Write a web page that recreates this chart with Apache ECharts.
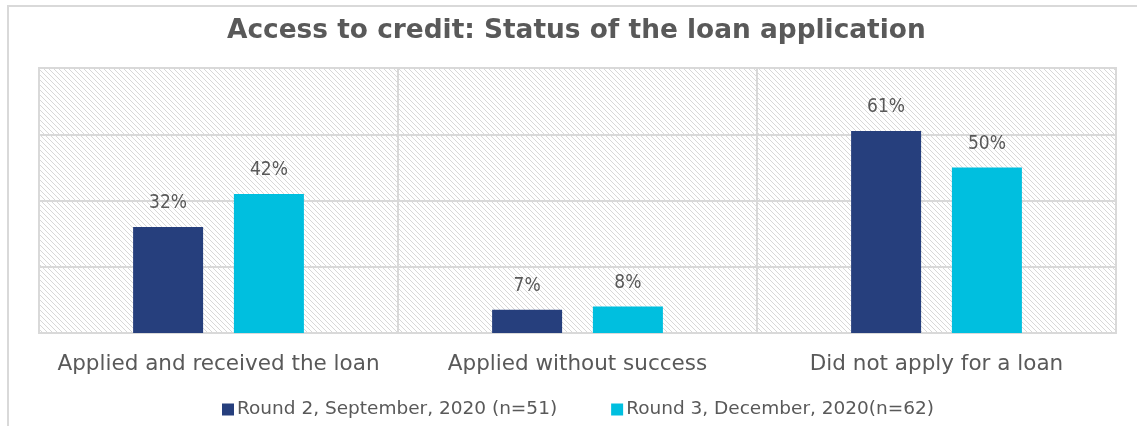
<!DOCTYPE html>
<html>
<head>
<meta charset="utf-8">
<script src="https://cdn.jsdelivr.net/npm/echarts@6/dist/echarts.min.js"></script>
<style>
  html, body { margin: 0; padding: 0; background: #fff; }
  #chart { width: 1137px; height: 426px; }
</style>
</head>
<body>
<div id="chart"></div>
<script>
const categories = ['Applied and received the loan', 'Applied without success', 'Did not apply for a loan'];
const round2Name = 'Round 2, September, 2020 (n=51)';
const round3Name = 'Round 3, December, 2020(n=62)';
const round2Values = [32, 7, 61];
const round3Values = [42, 8, 50];

// Diagonal hatch tile for the plot background
function hatchTile() {
  const c = document.createElement('canvas');
  const s = 5;
  c.width = s; c.height = s;
  const g = c.getContext('2d');
  g.fillStyle = '#ffffff';
  g.fillRect(0, 0, s, s);
  g.strokeStyle = '#d8d8d8';
  g.lineWidth = 1;
  g.beginPath();
  g.moveTo(-1, -1); g.lineTo(s + 1, s + 1);
  g.moveTo(-1, s - 1); g.lineTo(1, s + 1);
  g.moveTo(s - 1, -1); g.lineTo(s + 1, 1);
  g.stroke();
  return c;
}

const FONT = '"DejaVu Sans", sans-serif';
const FONT_NARROW = '"DejaVu Sans Condensed", "DejaVu Sans", sans-serif';
const TXT = '#595959';
const chart = echarts.init(document.getElementById('chart'), null, { renderer: 'canvas' });

chart.setOption({
  animation: false,
  textStyle: { fontFamily: FONT },
  title: {
    text: 'Access to credit: Status of the loan application',
    left: 222,
    top: 13,
    textStyle: { fontFamily: FONT, fontSize: 26.4, fontWeight: 'bold', color: TXT }
  },
  graphic: [{
    type: 'rect',
    shape: { x: 8, y: 6, width: 1140, height: 440 },
    style: { fill: 'none', stroke: '#d9d9d9', lineWidth: 2 },
    silent: true
  }],
  legend: {
    bottom: 2,
    left: 217,
    itemWidth: 12,
    itemHeight: 12,
    itemGap: 54,
    icon: 'rect',
    textStyle: { fontFamily: FONT, fontSize: 18.5, color: TXT, padding: [0, 0, 0, -2] },
    data: [round2Name, round3Name]
  },
  grid: {
    left: 39, right: 21, top: 68, bottom: 93,
    show: true,
    backgroundColor: { image: hatchTile(), repeat: 'repeat' },
    borderColor: '#d9d9d9',
    borderWidth: 2
  },
  xAxis: {
    type: 'category',
    data: categories,
    axisLine: { lineStyle: { color: '#d9d9d9', width: 2 } },
    axisTick: { show: false },
    splitLine: { show: true, interval: 0, lineStyle: { color: '#d9d9d9', width: 2 } },
    axisLabel: { interval: 0, hideOverlap: false, fontFamily: FONT, fontSize: 21.5, color: TXT, margin: 20 }
  },
  yAxis: {
    type: 'value',
    min: 0, max: 80, interval: 20,
    axisLabel: { show: false },
    axisLine: { show: false },
    axisTick: { show: false },
    splitLine: { lineStyle: { color: '#d9d9d9', width: 2 } }
  },
  series: [
    {
      name: round2Name,
      type: 'bar',
      data: round2Values,
      barWidth: 70,
      barGap: '44%',
      itemStyle: { color: '#263F7D' },
      label: { show: true, position: 'top', distance: 14, formatter: '{c}%', fontFamily: FONT_NARROW, fontSize: 19, color: TXT }
    },
    {
      name: round3Name,
      type: 'bar',
      data: round3Values,
      barWidth: 70,
      itemStyle: { color: '#00BFDF' },
      label: { show: true, position: 'top', distance: 14, formatter: '{c}%', fontFamily: FONT_NARROW, fontSize: 19, color: TXT }
    }
  ]
});
</script>
</body>
</html>
